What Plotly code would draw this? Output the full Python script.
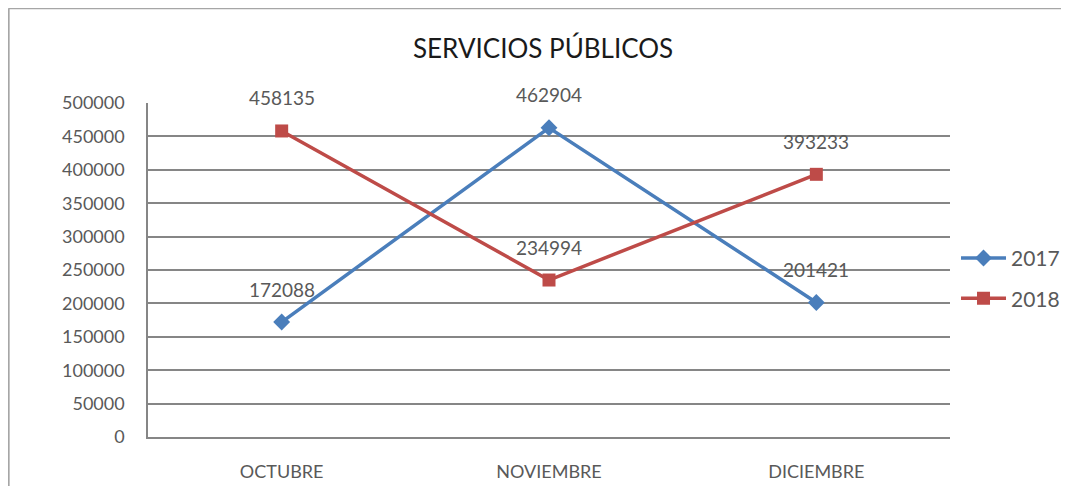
import plotly.graph_objects as go

# chart data
meses = ["OCTUBRE", "NOVIEMBRE", "DICIEMBRE"]
serie_2017 = [172088, 462904, 201421]
serie_2018 = [458135, 234994, 393233]
y_ticks = list(range(0, 500001, 50000))

AZUL = "#4A7EBB"
ROJO = "#BE4B48"
FUENTE = "Lato, 'Open Sans', sans-serif"

fig = go.Figure()

fig.add_trace(go.Scatter(
    x=meses, y=serie_2017, name="2017", legendgroup="a",
    mode="lines+markers",
    line=dict(color=AZUL, width=3.5),
    marker=dict(symbol="diamond", size=13, color=AZUL),
))
fig.add_trace(go.Scatter(
    x=meses, y=serie_2018, name="2018", legendgroup="b",
    mode="lines+markers",
    line=dict(color=ROJO, width=3.5),
    marker=dict(symbol="square", size=13, color=ROJO),
))

# data labels above the points
for serie in (serie_2017, serie_2018):
    for mes, val in zip(meses, serie):
        fig.add_annotation(
            x=mes, y=val, text=str(val), showarrow=False,
            yshift=33, font=dict(family=FUENTE, size=19, color="#595959"),
        )

# title, placed relative to the plot area
fig.add_annotation(
    text="SERVICIOS PÚBLICOS", showarrow=False,
    xref="paper", x=(542 - 148) / 800, xanchor="center",
    yref="paper", y=(438 - 48) / 335, yanchor="middle",
    font=dict(family=FUENTE, size=26, color="#1a1a1a"),
)

# outer chart border (left and top)
fig.add_shape(type="line", xref="paper", yref="paper",
              x0=-0.17375, x1=1.4, y0=1.2836, y1=1.2836,
              line=dict(color="#A6A6A6", width=2))
fig.add_shape(type="line", xref="paper", yref="paper",
              x0=-0.17375, x1=-0.17375, y0=-0.2, y1=1.2836,
              line=dict(color="#A6A6A6", width=2))

fig.update_layout(
    width=1069, height=486,
    margin=dict(l=140, r=121, t=95, b=48),
    paper_bgcolor="white", plot_bgcolor="white",
    font=dict(family=FUENTE, size=18, color="#595959"),
    showlegend=True,
    legend=dict(x=1.0075, y=0.475, xanchor="left", yanchor="middle",
                font=dict(family=FUENTE, size=21, color="#595959"),
                traceorder="grouped", tracegroupgap=10,
                itemwidth=45, bgcolor="rgba(0,0,0,0)"),
)

fig.update_xaxes(
    range=[-0.5, 2.5], showgrid=False, zeroline=False,
    showline=True, linecolor="#868686", linewidth=1.5,
    ticks="", ticklabelstandoff=18,
    tickfont=dict(family=FUENTE, size=18, color="#595959"),
)
fig.update_yaxes(
    range=[0, 500000], tickvals=y_ticks, ticktext=[str(v) for v in y_ticks],
    showgrid=True, gridcolor="#868686", gridwidth=1.5, zeroline=False,
    showline=True, linecolor="#868686", linewidth=1.5,
    ticks="", ticklabelstandoff=18,
    tickfont=dict(family=FUENTE, size=18, color="#595959"),
)

fig.write_html("out.html", config={"displayModeBar": False})
